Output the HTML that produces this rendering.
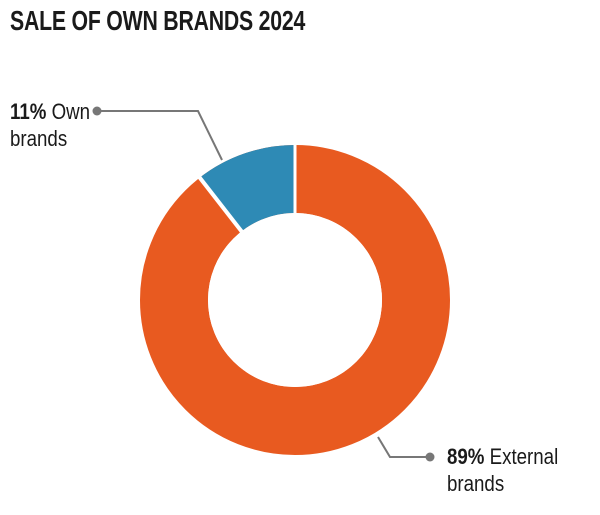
<!DOCTYPE html>
<html><head><style>
html,body{margin:0;padding:0;background:#fff;}
body{width:600px;height:515px;position:relative;overflow:hidden;font-family:"Liberation Sans Narrow","Liberation Sans",sans-serif;color:#1a1a1a;}
.t{position:absolute;white-space:nowrap;transform-origin:0 0;}
</style></head><body>
<div class="t" style="left:10px;top:5px;font-size:28px;font-weight:bold;transform:scaleX(0.76);letter-spacing:-0.3px;">SALE OF OWN BRANDS 2024</div>
<div class="t" style="left:10px;top:98px;font-size:22px;line-height:27px;transform:scaleX(0.85);"><b>11%</b> Own<br>brands</div>
<div class="t" style="left:447px;top:443px;font-size:22px;line-height:27px;transform:scaleX(0.85);"><b>89%</b> External<br>brands</div>
<svg width="600" height="515" style="position:absolute;left:0;top:0">
<circle cx="295" cy="300" r="121" fill="none" stroke="#e85a20" stroke-width="68"/>
<path d="M295,145 A155,155 0 0 0 199.6,177.8 L241.4,231.4 A87,87 0 0 1 295,213 Z" fill="#2e8ab5"/>
<line x1="295" y1="300" x2="193" y2="169" stroke="#fff" stroke-width="4"/>
<line x1="295" y1="140" x2="295" y2="214" stroke="#fff" stroke-width="3"/>
<circle cx="295" cy="300" r="87" fill="#fff"/>
<polyline points="97,111 198,111 222,160" fill="none" stroke="#777" stroke-width="2"/>
<circle cx="97" cy="111" r="4.5" fill="#777"/>
<polyline points="378,437 390,457 430,457" fill="none" stroke="#777" stroke-width="2"/>
<circle cx="430" cy="457" r="4.5" fill="#777"/>
</svg>
</body></html>
